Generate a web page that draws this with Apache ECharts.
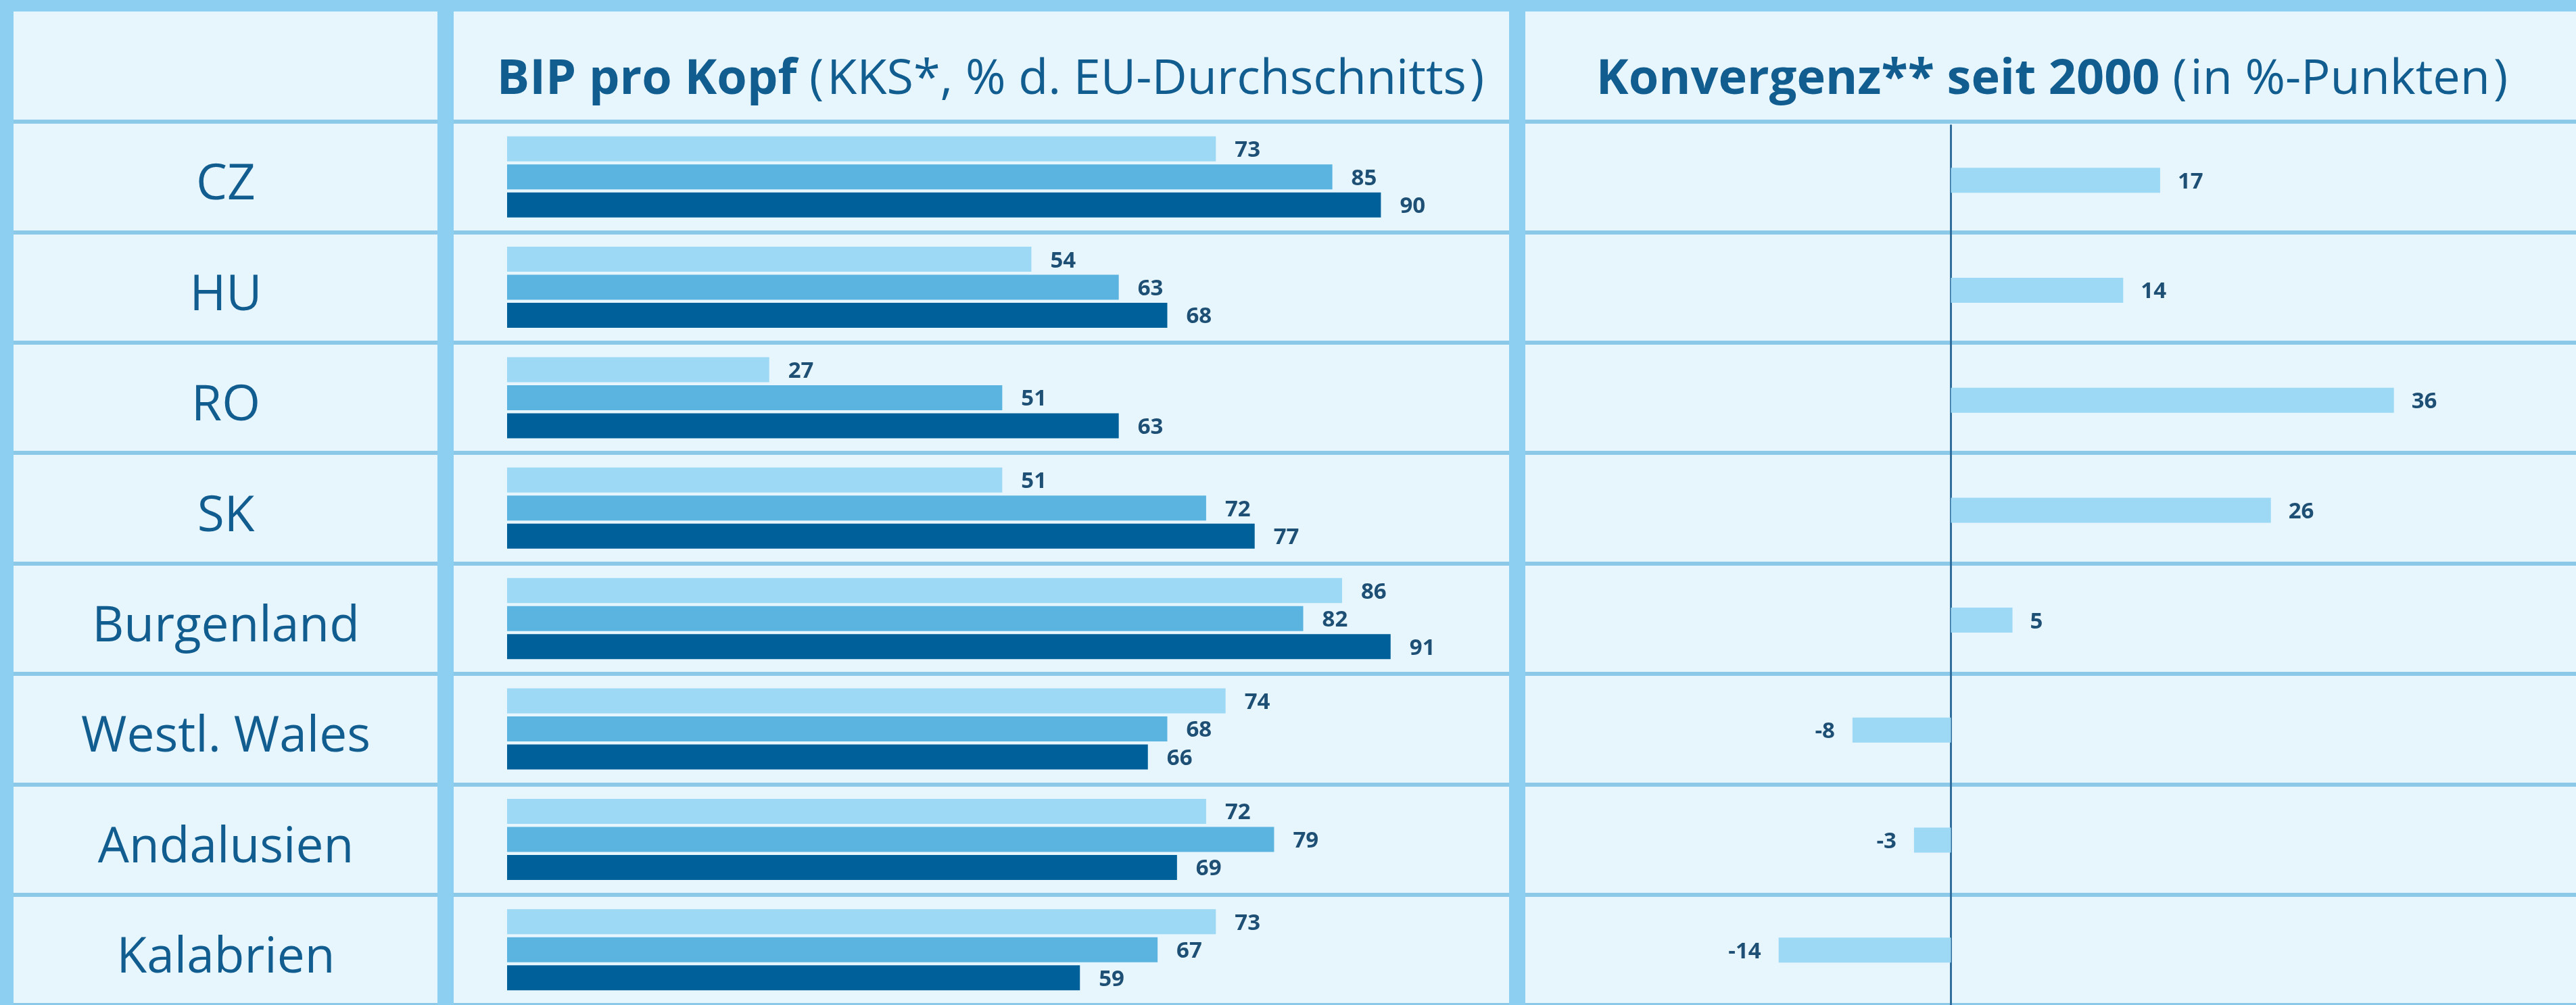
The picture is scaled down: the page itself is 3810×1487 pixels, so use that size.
<!DOCTYPE html>
<html><head><meta charset="utf-8">
<script src="https://cdn.jsdelivr.net/npm/echarts@6/dist/echarts.min.js"></script>
<style>html,body{margin:0;padding:0;background:#e7f5fc}#c{width:3810px;height:1487px}</style>
</head><body><div id="c"></div>
<script>
// ---- data ----
const regions = ['CZ', 'HU', 'RO', 'SK', 'Burgenland', 'Westl. Wales', 'Andalusien', 'Kalabrien'];
const bipFirst = [73, 54, 27, 51, 86, 74, 72, 73];    // BIP pro Kopf, erstes Jahr (2000)
const bipMiddle = [85, 63, 51, 72, 82, 68, 79, 67];   // mittleres Jahr
const bipLatest = [90, 68, 63, 77, 91, 66, 69, 59];   // letztes Jahr
const convergence = [17, 14, 36, 26, 5, -8, -3, -14]; // Konvergenz seit 2000 (%-Punkte)
const headerBip = ['BIP pro Kopf', 'KKS*, % d. EU-Durchschnitts'];
const headerConv = ['Konvergenz** seit 2000', 'in %-Punkten'];

// ---- style / layout ----
const F = "'Open Sans', 'Noto Sans', sans-serif";
const TXT = '#115d90';
const LBL = '#1e4f74';
const BORDER = '#8dcff0';
const SEP = '#8cc8e7';
const C1 = '#9dd8f5', C2 = '#5bb3df', C3 = '#00619a';
const TOP = 180, BAND = 164.9, H = BAND * regions.length;

const chart = echarts.init(document.getElementById('c'), null, {renderer: 'canvas'});

// verticalAlign 'top' + small lineHeight shifts the glyphs down by lineHeight/2
const barLabel = {
  show: true, position: 'right', distance: 28,
  verticalAlign: 'top', lineHeight: 5,
  fontFamily: F, fontSize: 33, fontWeight: 'bold', color: LBL
};

function bipSeries(name, data, color) {
  return {
    name, type: 'bar', xAxisIndex: 0, yAxisIndex: 0, data,
    barWidth: 37, barGap: '12%',
    itemStyle: {color},
    label: barLabel,
    silent: true
  };
}

function header(parts, x) {
  const base = {fontFamily: F, fontSize: 72, fill: TXT, verticalAlign: 'middle'};
  return {
    type: 'text', z: 60, x: x, y: 118,
    style: {
      text: '{b|' + parts[0] + '} {p|(}{r|' + parts[1] + '}{q|)}',
      align: 'center', verticalAlign: 'middle',
      fontFamily: F, fontSize: 72, fill: TXT,
      rich: {
        b: Object.assign({}, base, {fontWeight: 'bold'}),
        r: Object.assign({}, base, {fontWeight: 'normal'}),
        p: Object.assign({}, base, {fontWeight: 'normal', padding: [0, 5, 0, 0]}),
        q: Object.assign({}, base, {fontWeight: 'normal', padding: [0, 0, 0, 5]})
      }
    }
  };
}

const option = {
  backgroundColor: '#e7f5fc',
  animation: false,
  grid: [
    {left: 750, width: 1436, top: TOP, height: H},          // BIP
    {left: 2157.5, width: 1456, top: TOP + 5.5, height: H},  // Konvergenz
    {left: 0, width: 3810, top: TOP, height: H}              // table rows
  ],
  xAxis: [
    {gridIndex: 0, type: 'value', min: 0, max: 100, show: false},
    {gridIndex: 1, type: 'value', min: -40, max: 40, show: false},
    {gridIndex: 2, type: 'value', min: 0, max: 1, show: false}
  ],
  yAxis: [
    {
      gridIndex: 0, type: 'category', data: regions, inverse: true,
      axisLine: {show: false}, axisTick: {show: false}, splitLine: {show: false},
      axisLabel: {align: 'center', margin: 416, verticalAlign: 'top', lineHeight: 26,
                  fontFamily: F, fontSize: 73, color: TXT}
    },
    {
      gridIndex: 1, type: 'category', data: regions, inverse: true,
      axisLine: {show: true, onZero: true, lineStyle: {color: '#2f6e9c', width: 3}},
      axisTick: {show: false}, axisLabel: {show: false}, splitLine: {show: false}
    },
    {
      gridIndex: 2, type: 'category', data: regions, inverse: true, z: 0,
      axisLine: {show: false}, axisTick: {show: false}, axisLabel: {show: false},
      splitLine: {show: true, lineStyle: {color: SEP, width: 6}}
    }
  ],
  series: [
    bipSeries('2000', bipFirst, C1),
    bipSeries('Mitte', bipMiddle, C2),
    bipSeries('Aktuell', bipLatest, C3),
    {
      name: 'Konvergenz', type: 'bar', xAxisIndex: 1, yAxisIndex: 1,
      barWidth: 37, itemStyle: {color: C1}, silent: true,
      label: Object.assign({}, barLabel, {distance: 26}),
      data: convergence.map(v => ({value: v, label: {position: v < 0 ? 'left' : 'right'}}))
    }
  ],
  graphic: [
    {type: 'rect', z: 50, shape: {x: 0, y: 0, width: 3810, height: 17}, style: {fill: BORDER}},
    {type: 'rect', z: 50, shape: {x: 0, y: 0, width: 20, height: 1487}, style: {fill: BORDER}},
    {type: 'rect', z: 50, shape: {x: 647, y: 0, width: 24, height: 1487}, style: {fill: BORDER}},
    {type: 'rect', z: 50, shape: {x: 2232, y: 0, width: 24, height: 1487}, style: {fill: BORDER}},
    header(headerBip, 1465),
    header(headerConv, 3035)
  ]
};
chart.setOption(option);
</script>
</body></html>
